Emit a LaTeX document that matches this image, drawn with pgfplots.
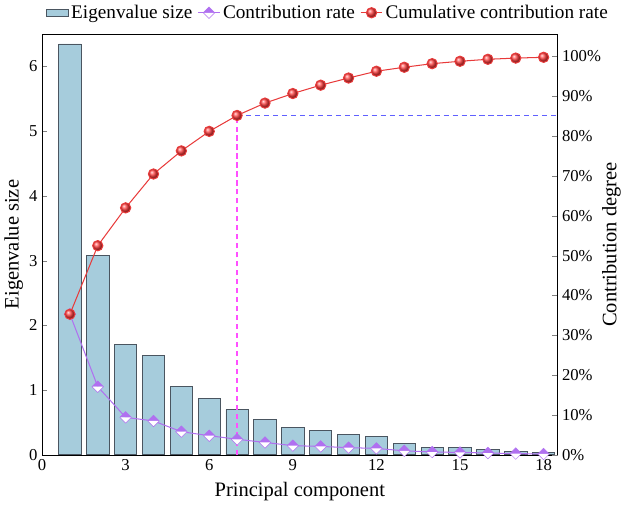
\documentclass[border=0pt]{standalone}
\usepackage{pgfplots}
\pgfplotsset{compat=1.18}
\usepackage{fontspec}
\setmainfont{Liberation Serif}
\definecolor{barfill}{HTML}{A6CCDC}
\definecolor{baredge}{HTML}{4A5560}
\definecolor{contrib}{HTML}{B070F0}
\definecolor{cumred}{HTML}{E83A3A}
\definecolor{dashblue}{HTML}{6060FF}
\definecolor{dashpink}{HTML}{FF50FF}
\pgfdeclareplotmark{halfdiamond}{%
  \pgfpathmoveto{\pgfqpoint{-\pgfplotmarksize}{0pt}}%
  \pgfpathlineto{\pgfqpoint{0pt}{\pgfplotmarksize}}%
  \pgfpathlineto{\pgfqpoint{\pgfplotmarksize}{0pt}}%
  \pgfpathclose
  \pgfsetfillcolor{contrib}\pgfusepath{fill}%
  \pgfpathmoveto{\pgfqpoint{-\pgfplotmarksize}{0pt}}%
  \pgfpathlineto{\pgfqpoint{0pt}{-\pgfplotmarksize}}%
  \pgfpathlineto{\pgfqpoint{\pgfplotmarksize}{0pt}}%
  \pgfpathclose
  \pgfsetfillcolor{white}\pgfusepath{fill}%
  \pgfpathmoveto{\pgfqpoint{-\pgfplotmarksize}{0pt}}%
  \pgfpathlineto{\pgfqpoint{0pt}{\pgfplotmarksize}}%
  \pgfpathlineto{\pgfqpoint{\pgfplotmarksize}{0pt}}%
  \pgfpathlineto{\pgfqpoint{0pt}{-\pgfplotmarksize}}%
  \pgfpathclose
  \pgfsetstrokecolor{contrib}\pgfsetlinewidth{0.4pt}\pgfusepath{stroke}%
}
\begin{document}
\begin{tikzpicture}
\pgfplotsset{
  every axis/.style={
    scale only axis, width=402pt, height=328pt,
    xmin=0, xmax=18.5,
    /pgf/number format/assume math mode=true,
    tick label style={font=\fontsize{13}{15}\selectfont},
    label style={font=\fontsize{16}{18}\selectfont},
    tick align=inside, major tick length=4pt,
  }
}
\begin{axis}[
  ymin=0, ymax=6.5,
  ytick={0,1,2,3,4,5,6},
  xtick={0,3,6,9,12,15,18},
  axis y line*=left, axis x line*=bottom,
  xlabel={Principal component}, ylabel={Eigenvalue size},
  ylabel style={yshift=-2pt},
  xlabel style={yshift=-2pt},
]
\addplot[ybar, bar width=0.8, fill=barfill, draw=baredge, line width=0.6pt] coordinates {
(1,6.35) (2,3.08) (3,1.70) (4,1.53) (5,1.05) (6,0.87) (7,0.70) (8,0.55) (9,0.42)
(10,0.38) (11,0.32) (12,0.28) (13,0.18) (14,0.12) (15,0.11) (16,0.08) (17,0.05) (18,0.03)};
\end{axis}
\begin{axis}[
  ymin=0, ymax=105.6,
  ytick={0,10,...,100},
  yticklabel={\pgfmathprintnumber{\tick}\%},
  axis y line*=right, axis x line*=top, xtick=\empty,
  ylabel={Contribution degree},
  ylabel style={yshift=6pt},
  legend style={at={(0.555,1.02)}, anchor=south, draw=none, fill=none,
    legend columns=3, font=\fontsize{15}{17}\selectfont,
    /tikz/every even column/.append style={column sep=2pt}},
  legend cell align=left,
]
\addlegendimage{area legend, fill=barfill, draw=baredge, line width=0.6pt}
\addlegendentry{Eigenvalue size}
\addplot[forget plot, color=dashpink, line width=1pt, dash pattern=on 4pt off 3pt] coordinates {(7,0) (7,85.2)};
\addplot[forget plot, color=dashblue, line width=1.3pt, dash pattern=on 4pt off 3pt] coordinates {(7,85.2) (18.5,85.2)};
\addplot[contrib, line width=0.8pt, mark=halfdiamond, mark size=4.5pt,
  mark options={solid}] coordinates {
(1,35.3) (2,17.1) (3,9.4) (4,8.5) (5,5.8) (6,4.8) (7,3.9) (8,3.1) (9,2.3)
(10,2.1) (11,1.8) (12,1.6) (13,1.0) (14,0.7) (15,0.6) (16,0.45) (17,0.3) (18,0.2)};
\addlegendentry{Contribution rate}
\addplot[cumred, line width=0.8pt, mark=ball, mark size=4pt,
  mark options={ball color=red!75!white}] coordinates {
(1,35.3) (2,52.5) (3,62.0) (4,70.5) (5,76.3) (6,81.2) (7,85.2) (8,88.3) (9,90.7)
(10,92.8) (11,94.6) (12,96.3) (13,97.3) (14,98.2) (15,98.8) (16,99.3) (17,99.6) (18,99.8)};
\addlegendentry{Cumulative contribution rate}
\end{axis}
\end{tikzpicture}
\end{document}
